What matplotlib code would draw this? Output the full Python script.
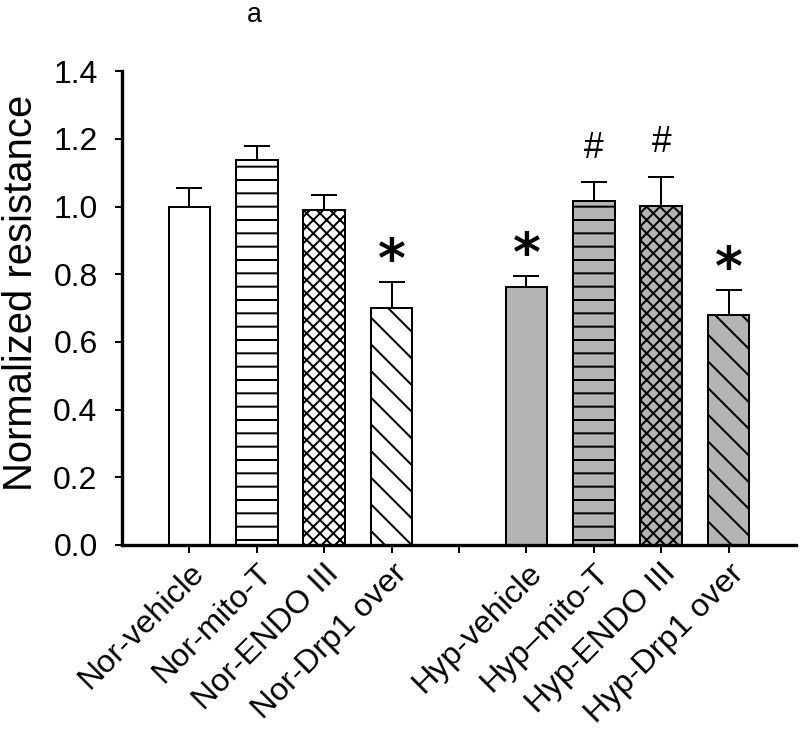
import matplotlib
matplotlib.use("Agg")
import matplotlib.pyplot as plt
import numpy as np

categories = ["Nor-vehicle", "Nor-mito-T", "Nor-ENDO III", "Nor-Drp1 over",
              "Hyp-vehicle", "Hyp\u2013mito-T", "Hyp-ENDO III", "Hyp-Drp1 over"]
values = [1.00, 1.139, 0.989, 0.701, 0.762, 1.015, 1.003, 0.681]
errors = [0.055, 0.040, 0.045, 0.076, 0.032, 0.058, 0.085, 0.072]
marks = ["", "", "", "*", "*", "#", "#", "*"]
positions = [0, 1, 2, 3, 5, 6, 7, 8]
hatches = ["", "--", "xxxx", "\\\\", "", "--", "xxxx", "\\\\"]
fills = ["white"] * 4 + ["#b4b4b4"] * 4

plt.rcParams['font.family'] = ['Liberation Sans', 'DejaVu Sans']
plt.rcParams['hatch.linewidth'] = 0.9
plt.rcParams['hatch.color'] = 'black'

DPI = 160
fig = plt.figure(figsize=(800 / DPI, 734 / DPI), dpi=DPI)
ax = fig.add_axes([0.1525, 0.2575, 0.8425, 0.6455])

for x, v, e, h, f in zip(positions, values, errors, hatches, fills):
    ax.bar(x, v, width=0.62, color=f, edgecolor='black', linewidth=0.9,
           hatch=h, zorder=2)
    ax.errorbar(x, v, yerr=[[0], [e]], fmt='none', ecolor='black',
                elinewidth=0.9, capsize=6, capthick=0.9, zorder=3)

for x, v, e, m in zip(positions, values, errors, marks):
    if m == "*":
        ax.text(x, v + e + 0.06, m, ha='center', va='center', fontsize=24,
                fontweight='bold', family='DejaVu Sans')
    elif m == "#":
        ax.text(x, v + e + 0.1, m, ha='center', va='center', fontsize=16)

ax.set_xlim(-1, 9)
ax.set_ylim(0, 1.4)
ax.set_yticks(np.arange(0, 1.41, 0.2))
ax.set_yticklabels([f"{t:.1f}" for t in np.arange(0, 1.41, 0.2)], fontsize=14.4)
ax.set_xticks(range(0, 9))
ax.set_xticklabels([categories[0], categories[1], categories[2], categories[3], "",
                    categories[4], categories[5], categories[6], categories[7]],
                   fontsize=14.6, rotation=45, ha='right', rotation_mode='anchor')
ax.tick_params(axis='y', length=3, width=0.9, pad=8)
ax.tick_params(axis='x', length=3.5, width=0.9, pad=2.5)
ax.set_ylabel("Normalized resistance", fontsize=18.0)
ax.yaxis.set_label_coords(-0.122, 0.532)
for s in ['top', 'right']:
    ax.spines[s].set_visible(False)
for s in ['left', 'bottom']:
    ax.spines[s].set_linewidth(1.5)

fig.text(254 / 800, 1 - 22 / 734, "a", ha='center', va='baseline', fontsize=12)

fig.savefig("out.png", dpi=DPI)
